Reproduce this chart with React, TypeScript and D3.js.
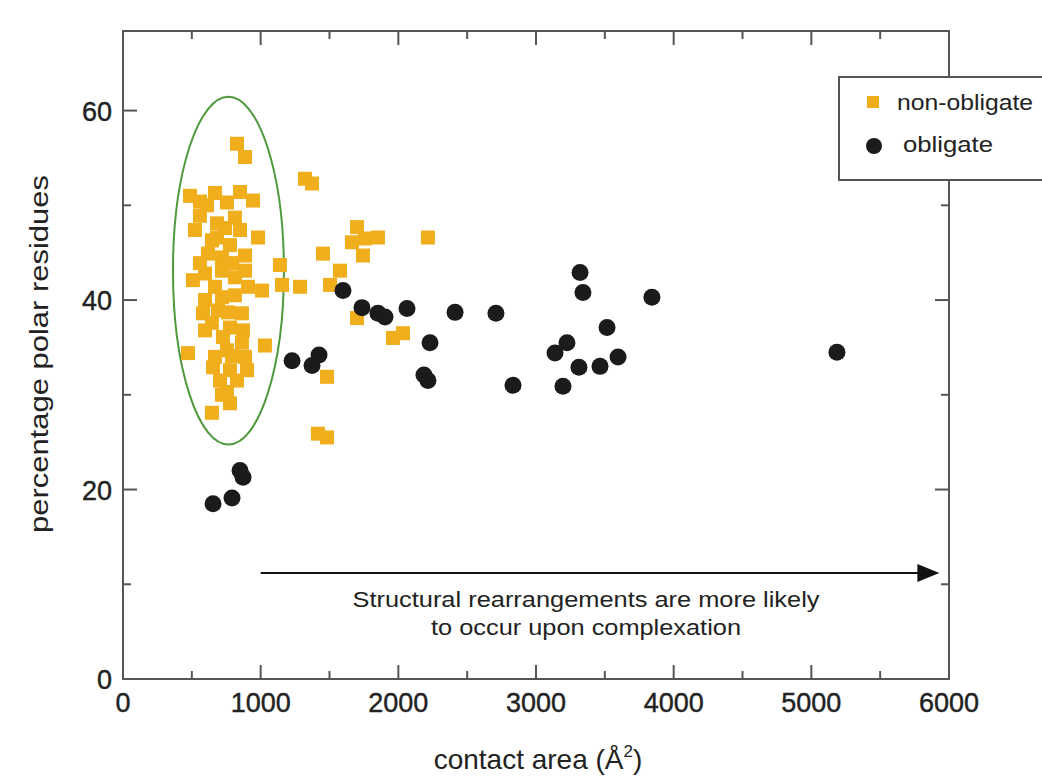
import React from "react";
import * as d3 from "d3";

// non-obligate (orange squares): contact area (Å²), percentage polar residues
const nonObligateX = [828, 886, 487, 559, 668, 850, 944, 610, 755, 813, 683, 981, 683, 777, 617, 886, 719, 792, 1140, 508, 596, 813, 908, 1010, 1155, 596, 719, 813, 581, 690, 864, 646, 777, 872, 726, 864, 1031, 472, 668, 755, 886, 654, 777, 901, 705, 828, 755, 777, 646, 523, 559,
  559, 741, 850, 646, 719, 886, 668, 763, 596, 792, 719,
  1322, 1373, 1700, 1663, 1758, 1852, 1743, 1453, 2215, 1576, 1504, 1286, 1700, 1961, 2034, 1482, 1416, 1482];
const nonObligateY = [56.5, 55.1, 51.0, 50.4, 51.3, 51.4, 50.5, 50.0, 50.3, 48.7, 48.1, 46.6, 46.6, 45.8, 44.9, 44.7, 44.5, 43.9, 43.7, 42.1, 42.8, 42.4, 41.4, 41.0, 41.6, 40.0, 40.3, 40.5, 38.6, 38.9, 38.6, 37.6, 37.1, 36.8, 36.1, 35.5, 35.2, 34.4, 34.0, 34.7, 34.0, 32.9, 32.6, 32.6, 31.5, 31.5, 30.3, 29.1, 28.1, 47.4, 43.9,
  48.9, 47.6, 47.4, 46.3, 43.1, 43.1, 41.4, 38.7, 36.8, 34.1, 30.0,
  52.8, 52.3, 47.7, 46.1, 46.5, 46.6, 44.7, 44.9, 46.6, 43.1, 41.6, 41.4, 38.1, 36.0, 36.5, 31.9, 25.9, 25.5];

// obligate (black circles)
const obligateX = [1598, 1736, 1852, 1903, 2063, 2412, 2230, 2186, 2215, 1228, 1373, 1424, 3320, 3341, 3842, 2709, 3516, 3225, 3138, 3596, 3465, 3312, 2833, 3196, 5186, 850, 872, 792, 654];
const obligateY = [41.0, 39.2, 38.6, 38.2, 39.1, 38.7, 35.5, 32.1, 31.5, 33.6, 33.1, 34.2, 42.9, 40.8, 40.3, 38.6, 37.1, 35.5, 34.4, 34.0, 33.0, 32.9, 31.0, 30.9, 34.5, 22.0, 21.3, 19.1, 18.5];

const xTickLabels = [0, 1000, 2000, 3000, 4000, 5000, 6000];
const yTickLabels = [0, 20, 40, 60];

// ellipse around non-obligate cluster: center and radii in data units
const ellipseC = { cx: 766, cy: 43.1, rx: 403, ry: 18.35 };
// annotation arrow
const arrowFrom = [1000, 11.2];
const arrowTo = [5930, 11.2];
const annotationLines = ["Structural rearrangements are more likely", "to occur upon complexation"];
const legendLabels = ["non-obligate", "obligate"];

export default function App() {
  const W = 1042, H = 782;
  const x = d3.scaleLinear().domain([0, 6000]).range([123, 949]);
  const y = d3.scaleLinear().domain([0, 68.4]).range([679, 31]);
  const axisColor = "#555";
  const textColor = "#222";
  const font = "'Liberation Sans', Arial, Helvetica, sans-serif";

  const xMinor = d3.range(0, 6001, 500);
  const yMinor = d3.range(0, 68, 10);

  const orange = "#f0ae1c";
  const sq = 14;

  return (
    <svg width={W} height={H} style={{ position: "absolute", left: 0, top: 0, background: "#fff" }} fontFamily={font}>
      <rect x={0} y={0} width={W} height={H} fill="#fff" />
      {/* ellipse */}
      <ellipse cx={x(ellipseC.cx)} cy={y(ellipseC.cy)} rx={x(ellipseC.rx) - x(0)} ry={y(0) - y(ellipseC.ry)} fill="none" stroke="#4f9a3c" strokeWidth={2} />
      {/* squares */}
      {nonObligateX.map((v, i) => (
        <rect key={"o" + i} x={x(v) - sq / 2} y={y(nonObligateY[i]) - sq / 2} width={sq} height={sq} fill={orange} />
      ))}
      {/* circles */}
      {obligateX.map((v, i) => (
        <circle key={"b" + i} cx={x(v)} cy={y(obligateY[i])} r={8.5} fill="#1b1b1b" />
      ))}
      {/* frame */}
      <rect x={x(0)} y={y(68.4)} width={x(6000) - x(0)} height={y(0) - y(68.4)} fill="none" stroke={axisColor} strokeWidth={2} />
      {xMinor.filter(v => v > 0 && v < 6000).map(v => {
        const len = v % 1000 === 0 ? 14 : 8;
        return (
          <g key={"xt" + v} stroke={axisColor} strokeWidth={2}>
            <line x1={x(v)} x2={x(v)} y1={y(0)} y2={y(0) - len} />
            <line x1={x(v)} x2={x(v)} y1={y(68.4)} y2={y(68.4) + len} />
          </g>
        );
      })}
      {yMinor.filter(v => v > 0).map(v => {
        const len = v % 20 === 0 ? 14 : 8;
        return (
          <g key={"yt" + v} stroke={axisColor} strokeWidth={2}>
            <line x1={x(0)} x2={x(0) + len} y1={y(v)} y2={y(v)} />
            <line x1={x(6000)} x2={x(6000) - len} y1={y(v)} y2={y(v)} />
          </g>
        );
      })}
      {/* tick labels */}
      {xTickLabels.map(v => (
        <text key={"xl" + v} x={x(v)} y={y(0) + 33} textAnchor="middle" fontSize={27} fill={textColor} stroke={textColor} strokeWidth={0.4}>{v}</text>
      ))}
      {yTickLabels.map(v => (
        <text key={"yl" + v} x={x(0) - 11} y={y(v) + 10} textAnchor="end" fontSize={27} fill={textColor} stroke={textColor} strokeWidth={0.4}>{v}</text>
      ))}
      {/* axis titles */}
      <text x={538} y={769} textAnchor="middle" fontSize={28} fill={textColor}>
        contact area (Å<tspan dy={-12} fontSize={17}>2</tspan><tspan dy={12}>)</tspan>
      </text>
      <text transform={`translate(48,${354}) rotate(-90)`} textAnchor="middle" fontSize={25} fill={textColor} textLength={358} lengthAdjust="spacingAndGlyphs">percentage polar residues</text>
      {/* arrow */}
      <line x1={x(arrowFrom[0])} x2={x(arrowTo[0]) - 18} y1={y(arrowFrom[1])} y2={y(arrowTo[1])} stroke="#111" strokeWidth={2} />
      <path d={`M${x(arrowTo[0])},${y(arrowTo[1])} L${x(arrowTo[0]) - 22},${y(arrowTo[1]) - 9} L${x(arrowTo[0]) - 22},${y(arrowTo[1]) + 9} Z`} fill="#111" />
      {annotationLines.map((t, i) => (
        <text key={"an" + i} x={586} y={607 + i * 28} textAnchor="middle" fontSize={22} fill={textColor} textLength={i === 0 ? 467 : 310} lengthAdjust="spacingAndGlyphs">{t}</text>
      ))}
      {/* legend */}
      <rect x={839} y={77} width={215} height={103} fill="#fff" stroke={axisColor} strokeWidth={2} />
      <rect x={867} y={96} width={12} height={12} fill={orange} />
      <text x={897} y={110} fontSize={22} fill={textColor} textLength={136} lengthAdjust="spacingAndGlyphs">{legendLabels[0]}</text>
      <circle cx={874} cy={146} r={8} fill="#1b1b1b" />
      <text x={903} y={152} fontSize={22} fill={textColor} textLength={90} lengthAdjust="spacingAndGlyphs">{legendLabels[1]}</text>
    </svg>
  );
}
